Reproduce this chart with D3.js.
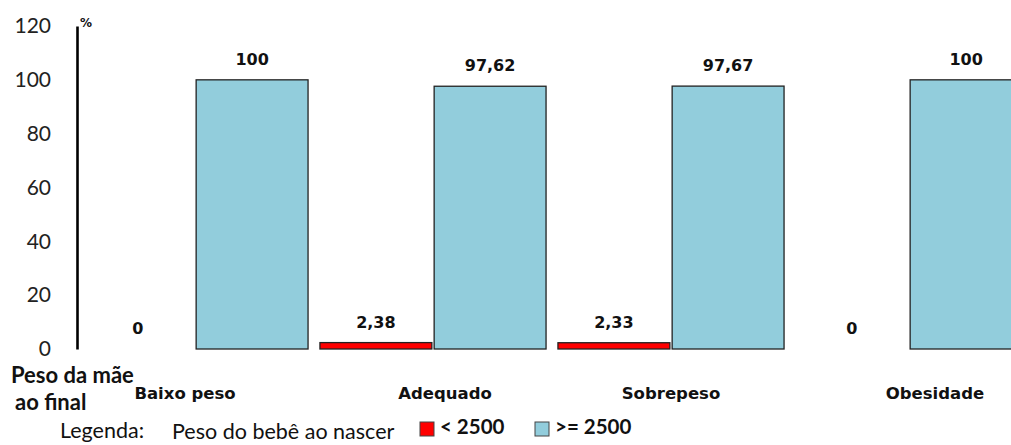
<!DOCTYPE html>
<html>
<head>
<meta charset="utf-8">
<script src="https://cdn.jsdelivr.net/npm/d3@7"></script>
<style>
  html, body { margin: 0; padding: 0; background: #fff; overflow: hidden; }
  svg { display: block; }
</style>
</head>
<body>
<svg id="chart" width="1011" height="445"></svg>
<script>
// ---- data ----
const categories = ["Baixo peso", "Adequado", "Sobrepeso", "Obesidade"];
const seriesNames = ["< 2500", ">= 2500"];
const lowWeight = [0, 2.38, 2.33, 0];        // < 2500
const normalWeight = [100, 97.62, 97.67, 100]; // >= 2500
const labelsLow = ["0", "2,38", "2,33", "0"];
const labelsNormal = ["100", "97,62", "97,67", "100"];
const yTicks = [0, 20, 40, 60, 80, 100, 120];

const colors = ["#FF0000", "#92CDDC"];

const svg = d3.select("#chart");

const x0 = d3.scaleBand().domain(categories).range([76, 1028]).paddingInner(0.05).paddingOuter(0.025);
const x1 = d3.scaleBand().domain(seriesNames).range([0, x0.bandwidth()]).paddingInner(0.02);
const y = d3.scaleLinear().domain([0, 120]).range([349, 26]);

// y axis
const yAxis = d3.axisLeft(y).tickValues(yTicks).tickSize(0).tickPadding(26).tickFormat(d3.format("d"));
const gy = svg.append("g").attr("transform", "translate(77,0)").call(yAxis);
gy.select(".domain").attr("stroke", "#000").attr("stroke-width", 2.6);
gy.selectAll("text").attr("font-family", "Lato, 'Open Sans', sans-serif").attr("font-size", 21).attr("fill", "#222");

svg.append("text").attr("x", 80).attr("y", 27).text("%")
  .attr("font-family", "'DejaVu Sans', sans-serif").attr("font-weight", "bold").attr("font-size", 12).attr("fill", "#111");

// bars
const rows = categories.map((c, i) => ({cat: c, vals: [
  {s: seriesNames[0], v: lowWeight[i], lab: labelsLow[i], col: colors[0]},
  {s: seriesNames[1], v: normalWeight[i], lab: labelsNormal[i], col: colors[1]}
]}));

const g = svg.selectAll("g.grp").data(rows).enter().append("g").attr("class", "grp")
  .attr("transform", d => `translate(${x0(d.cat)},0)`);

g.selectAll("rect").data(d => d.vals.filter(e => e.v > 0)).enter().append("rect")
  .attr("x", d => x1(d.s)).attr("width", x1.bandwidth())
  .attr("y", d => y(d.v)).attr("height", d => y(0) - y(d.v))
  .attr("fill", d => d.col).attr("stroke", "#222").attr("stroke-width", 1.3);

g.selectAll("text.val").data(d => d.vals).enter().append("text").attr("class", "val")
  .attr("x", d => x1(d.s) + x1.bandwidth() / 2).attr("y", d => y(d.v) - 15)
  .attr("text-anchor", "middle")
  .attr("font-family", "'DejaVu Sans', sans-serif").attr("font-weight", "bold").attr("font-size", 16)
  .attr("fill", "#111").text(d => d.lab);

// category labels (manually placed text boxes in the original)
const catOffsets = [-10, 12, 0, 26];
svg.selectAll("text.cat").data(categories).enter().append("text").attr("class", "cat")
  .attr("x", (d, i) => x0(d) + x0.bandwidth() / 2 + catOffsets[i]).attr("y", 399)
  .attr("text-anchor", "middle")
  .attr("font-family", "'DejaVu Sans', sans-serif").attr("font-weight", "bold").attr("font-size", 16.5)
  .attr("fill", "#111").text(d => d);

// axis title
const tf = "Lato, 'Open Sans', sans-serif";
svg.append("text").attr("x", 11).attr("y", 383).text("Peso da mãe")
  .attr("font-family", tf).attr("font-weight", "bold").attr("font-size", 22).attr("fill", "#111");
svg.append("text").attr("x", 15).attr("y", 410).text("ao final")
  .attr("font-family", tf).attr("font-weight", "bold").attr("font-size", 22).attr("fill", "#111");

// legend
svg.append("text").attr("x", 60).attr("y", 438).text("Legenda:")
  .attr("font-family", tf).attr("font-size", 21.5).attr("fill", "#111");
svg.append("text").attr("x", 172).attr("y", 439).text("Peso do bebê ao nascer")
  .attr("font-family", tf).attr("font-size", 21.5).attr("fill", "#111");

const legX = [420, 535];
const lg = svg.selectAll("g.leg").data(seriesNames).enter().append("g").attr("class", "leg")
  .attr("transform", (d, i) => `translate(${legX[i]},422)`);
lg.append("rect").attr("width", 14).attr("height", 14)
  .attr("fill", (d, i) => colors[i]).attr("stroke", "#444").attr("stroke-width", 1);
lg.append("text").attr("x", 20).attr("y", 12).text(d => d)
  .attr("font-family", tf).attr("font-weight", "bold").attr("font-size", 20.5).attr("fill", "#111");
</script>
</body>
</html>
